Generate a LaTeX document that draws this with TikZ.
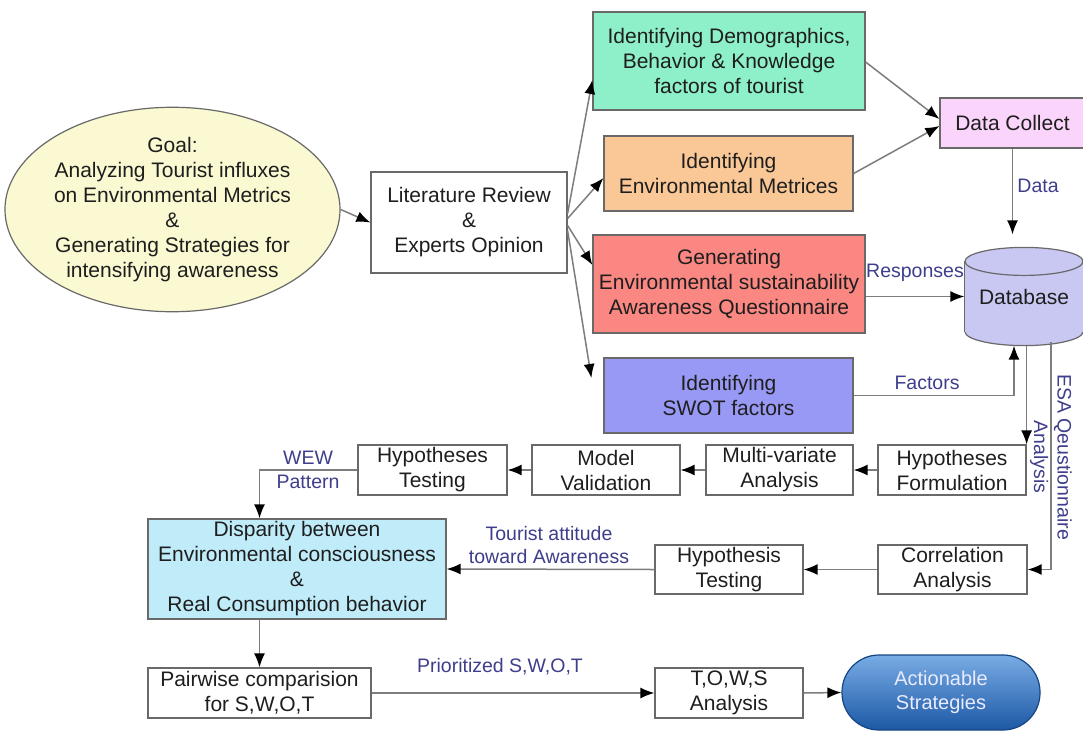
\documentclass[tikz,border=0pt]{standalone}
\usepackage{fontspec}
\setmainfont{Liberation Sans}
\usetikzlibrary{shapes.geometric,arrows.meta,backgrounds}
\definecolor{bordergray}{RGB}{105,105,105}
\definecolor{linegray}{RGB}{125,125,125}
\definecolor{textdark}{RGB}{30,30,30}
\definecolor{lblue}{RGB}{62,62,140}
\definecolor{goalfill}{RGB}{250,249,210}
\definecolor{greenfill}{RGB}{142,240,200}
\definecolor{orangefill}{RGB}{250,200,150}
\definecolor{redfill}{RGB}{250,135,130}
\definecolor{swotfill}{RGB}{152,152,245}
\definecolor{dcfill}{RGB}{250,212,250}
\definecolor{dbfill}{RGB}{200,200,242}
\definecolor{dispfill}{RGB}{192,236,250}
\definecolor{acttop}{RGB}{120,172,228}
\definecolor{actbot}{RGB}{28,88,165}
\tikzset{
  box/.style={draw=bordergray, line width=1.2pt, text=textdark, align=center,
    inner sep=0pt, font=\fontsize{21}{25}\selectfont},
  lbl/.style={text=lblue, align=center, inner sep=0pt, font=\fontsize{19.5}{23.5}\selectfont},
  arr/.style={draw=linegray, line width=1.5pt, -{Latex[length=14pt,width=11pt,color=black]}},
  ln/.style={draw=linegray, line width=1.5pt}
}
\begin{document}
\begin{tikzpicture}[x=1pt,y=-1pt]
\begin{scope}[on background layer]
\fill[white] (0,0) rectangle (1083,731);
\end{scope}
\useasboundingbox (0,0) rectangle (1083,731);

% nodes
\node[box, ellipse, fill=goalfill, minimum width=321pt, minimum height=175pt] (goal) at (172.5,209.5)
  {Goal:\\Analyzing Tourist influxes\\on Environmental Metrics\\\&\\Generating Strategies for\\intensifying awareness};
\node[box, minimum width=196pt, minimum height=101pt] (lr) at (469,222.5)
  {Literature Review\\\&\\Experts Opinion};
\node[box, fill=greenfill, minimum width=272pt, minimum height=98pt] (green) at (729,61)
  {Identifying Demographics,\\Behavior \& Knowledge\\factors of tourist};
\node[box, fill=orangefill, minimum width=249pt, minimum height=75pt] (orange) at (728.5,173.5)
  {Identifying\\Environmental Metrices};
\node[box, fill=redfill, minimum width=272pt, minimum height=98pt] (red) at (729,284)
  {Generating\\Environmental sustainability\\Awareness Questionnaire};
\node[box, fill=swotfill, minimum width=249pt, minimum height=75pt] (swot) at (728.5,395.5)
  {Identifying\\SWOT factors};
\node[box, fill=dcfill, minimum width=145pt, minimum height=50pt] (dc) at (1012.5,123)
  {Data Collect};
\node[box, draw=none, minimum width=118pt, minimum height=97pt] (db) at (1024,296.5)
  {Database};
\begin{scope}[on background layer]
  \filldraw[fill=dbfill, draw=bordergray, line width=1.2pt]
    ([yshift=14pt]db.south) ellipse[x radius=59pt, y radius=14pt];
  \fill[dbfill] ([yshift=-14pt]db.north west) rectangle ([yshift=14pt]db.south east);
  \draw[bordergray, line width=1.2pt] ([yshift=-14pt]db.north west) -- ([yshift=14pt]db.south west);
  \draw[bordergray, line width=1.2pt] ([yshift=-14pt]db.north east) -- ([yshift=14pt]db.south east);
  \filldraw[fill=dbfill, draw=bordergray, line width=1.2pt]
    ([yshift=-14pt]db.north) ellipse[x radius=59pt, y radius=14pt];
\end{scope}
\node[box, minimum width=148pt, minimum height=50pt] (hf) at (952,470) {Hypotheses\\Formulation};
\node[box, minimum width=147pt, minimum height=50pt] (mv) at (779.5,470) {Multi-variate\\Analysis};
\node[box, minimum width=148pt, minimum height=50pt] (mval) at (606,470) {Model\\Validation};
\node[box, minimum width=149pt, minimum height=50pt] (ht) at (432.5,470) {Hypotheses\\Testing};
\node[box, fill=dispfill, minimum width=298pt, minimum height=100pt] (disp) at (297,569)
  {Disparity between\\Environmental consciousness\\\&\\Real Consumption behavior};
\node[box, minimum width=148pt, minimum height=49pt] (hyt) at (729,569.5) {Hypothesis\\Testing};
\node[box, minimum width=149pt, minimum height=49pt] (corr) at (952.5,569.5) {Correlation\\Analysis};
\node[box, minimum width=223pt, minimum height=50pt] (pair) at (259.5,693) {Pairwise comparision\\for S,W,O,T};
\node[box, minimum width=148pt, minimum height=50pt] (tows) at (729,693) {T,O,W,S\\Analysis};
\node[box, draw=actbot!80!black, rounded corners=37pt, top color=acttop, bottom color=actbot,
  text=white!92!blue, minimum width=198pt, minimum height=75pt,
  font=\fontsize{20}{24}\selectfont] (act) at (941,692.5) {Actionable\\Strategies};

% connectors
\draw[arr] (goal.east) -- (lr.west);
\draw[arr] ([yshift=9pt]lr.east) -- ([yshift=-19pt]green.west);
\draw[arr] ([yshift=4pt]lr.east) -- ([yshift=-4.5pt]orange.west);
\draw[arr] ([yshift=-3pt]lr.east) -- ([yshift=19pt]red.west);
\draw[arr] ([yshift=-8pt]lr.east) -- ([xshift=-12pt,yshift=17.5pt]swot.west);
\draw[arr] ([yshift=-1pt]green.east) -- ([yshift=4pt]dc.west);
\draw[arr] (orange.east) -- ([yshift=-3pt]dc.west);
\draw[arr, shorten >=13pt] (dc.south) -- (dc.south |- db.north);
\draw[arr] (red.east |- db.west) -- (db.west);
\node[lbl] (lresp) at (915,273) {Responses};
\node[lbl] (ldata) at (1038,186) {Data};
\draw[arr] (swot.east) -| ([xshift=-10pt]db.south);
\node[lbl] (lfact) at (927,383) {Factors};
\draw[arr] (db.south -| hf.north east) -- (hf.north east);
\draw[arr] ([xshift=27pt,yshift=4pt]db.south) |- (corr.east);
\node[lbl, rotate=-90] (lesa) at (1051,457) {ESA Qeustionnaire\\Analysis};
\draw[arr] (hf.west) -- (mv.east);
\draw[arr] (mv.west) -- (mval.east);
\draw[arr] (mval.west) -- (ht.east);
\draw[arr] (ht.west) -| (disp.north -| pair.north);
\node[lbl] (lwew) at (308,470) {WEW\\Pattern};
\draw[arr] (corr.west) -- (hyt.east);
\draw[arr] (hyt.west) -- (disp.east);
\node[lbl] (ltour) at (549,545) {Tourist attitude\\toward Awareness};
\draw[arr] (disp.south -| pair.north) -- (pair.north);
\draw[arr] (pair.east) -- (tows.west);
\node[lbl] (lprio) at (500,667) {Prioritized S,W,O,T};
\draw[arr] (tows.east) -- (act.west);
\end{tikzpicture}
\end{document}
